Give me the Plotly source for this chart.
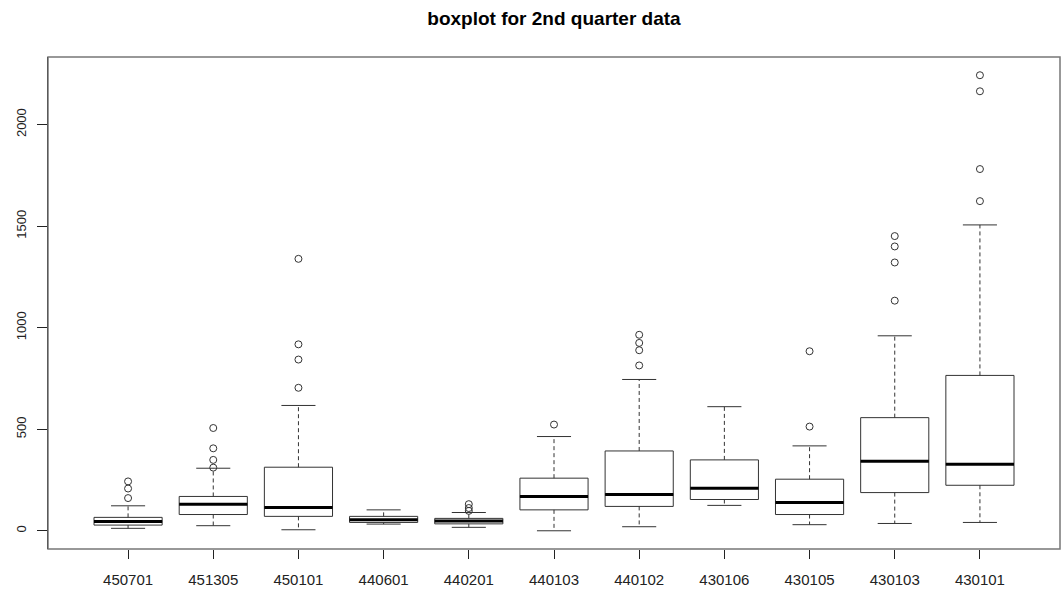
import plotly.graph_objects as go

categories = ["450701", "451305", "450101", "440601", "440201", "440103",
              "440102", "430106", "430105", "430103", "430101"]
lower_whisker = [12, 25, 5, 33, 17, 0, 20, 125, 30, 36, 41]
q1 = [28, 80, 71, 41, 34, 103, 120, 154, 80, 188, 224]
median = [46, 130, 115, 54, 48, 169, 179, 210, 139, 342, 328]
q3 = [66, 169, 313, 71, 61, 259, 393, 349, 254, 557, 765]
upper_whisker = [123, 308, 617, 103, 90, 464, 745, 611, 418, 960, 1506]
outliers = [
    [161, 208, 243],
    [311, 349, 406, 506],
    [704, 843, 918, 1339],
    [],
    [98, 112, 131],
    [523],
    [814, 889, 925, 965],
    [],
    [513, 884],
    [1133, 1321, 1400, 1451],
    [1623, 1781, 2164, 2243],
]
y_ticks = [0, 500, 1000, 1500, 2000]

n = len(categories)
pos = list(range(1, n + 1))
LINE = "#333333"
BOXW = 0.8
CAPW = 0.2

fig = go.Figure()

# boxes (no whiskers; those are drawn dashed below)
fig.add_trace(go.Box(
    x=pos, q1=q1, median=median, q3=q3,
    lowerfence=q1, upperfence=q3,
    width=BOXW, fillcolor="white",
    line=dict(color=LINE, width=1),
    whiskerwidth=0, boxpoints=False, showlegend=False, hoverinfo="skip",
))

# whiskers (dashed)
wx, wy = [], []
for p, lo, a, b, hi in zip(pos, lower_whisker, q1, q3, upper_whisker):
    wx += [p, p, None, p, p, None]
    wy += [b, hi, None, a, lo, None]
fig.add_trace(go.Scatter(x=wx, y=wy, mode="lines",
                         line=dict(color=LINE, width=1, dash="4px,3px"),
                         showlegend=False, hoverinfo="skip"))

# staples
cx, cy = [], []
for p, lo, hi in zip(pos, lower_whisker, upper_whisker):
    cx += [p - CAPW, p + CAPW, None, p - CAPW, p + CAPW, None]
    cy += [hi, hi, None, lo, lo, None]
fig.add_trace(go.Scatter(x=cx, y=cy, mode="lines",
                         line=dict(color=LINE, width=1),
                         showlegend=False, hoverinfo="skip"))

# medians (thick)
mx, my = [], []
for p, m in zip(pos, median):
    mx += [p - BOXW / 2, p + BOXW / 2, None]
    my += [m, m, None]
fig.add_trace(go.Scatter(x=mx, y=my, mode="lines",
                         line=dict(color="black", width=3),
                         showlegend=False, hoverinfo="skip"))

# outliers
ox, oy = [], []
for p, outs in zip(pos, outliers):
    for v in outs:
        ox.append(p)
        oy.append(v)
fig.add_trace(go.Scatter(x=ox, y=oy, mode="markers",
                         marker=dict(symbol="circle-open", size=7,
                                     color=LINE, line=dict(width=1)),
                         showlegend=False, hoverinfo="skip"))

all_vals = lower_whisker + upper_whisker + [v for o in outliers for v in o]
ymin, ymax = min(all_vals), max(all_vals)
yr = ymax - ymin

fig.update_layout(
    width=1061, height=589,
    margin=dict(l=48, r=1, t=57, b=40),
    paper_bgcolor="white", plot_bgcolor="white",
    font=dict(family="Liberation Sans, Arial, sans-serif", color="#222222"),
    title=dict(text="<b>boxplot for 2nd quarter data</b>",
               x=0.5, xref="paper", xanchor="center",
               y=1 - 18 / 589, yref="container", yanchor="middle",
               font=dict(size=19, color="black")),
    xaxis=dict(range=[0.5 - 0.04 * n, n + 0.5 + 0.04 * n],
               tickvals=pos, ticktext=categories,
               ticks="outside", ticklen=9, tickcolor="#222222",
               tickfont=dict(size=15), ticklabelstandoff=8,
               showgrid=False, zeroline=False, showline=False),
    yaxis=dict(range=[ymin - 0.04 * yr, ymax + 0.04 * yr],
               tickvals=y_ticks, tickangle=-90,
               ticks="outside", ticklen=10, tickcolor="#222222",
               tickfont=dict(size=13), ticklabelstandoff=6,
               showgrid=False, zeroline=False,
               showline=True, linecolor="black", linewidth=1),
    shapes=[dict(type="rect", xref="paper", yref="paper",
                 x0=0, x1=1, y0=0, y1=1,
                 line=dict(color="#777777", width=1.5), layer="above")],
)

fig.write_html("out.html")
